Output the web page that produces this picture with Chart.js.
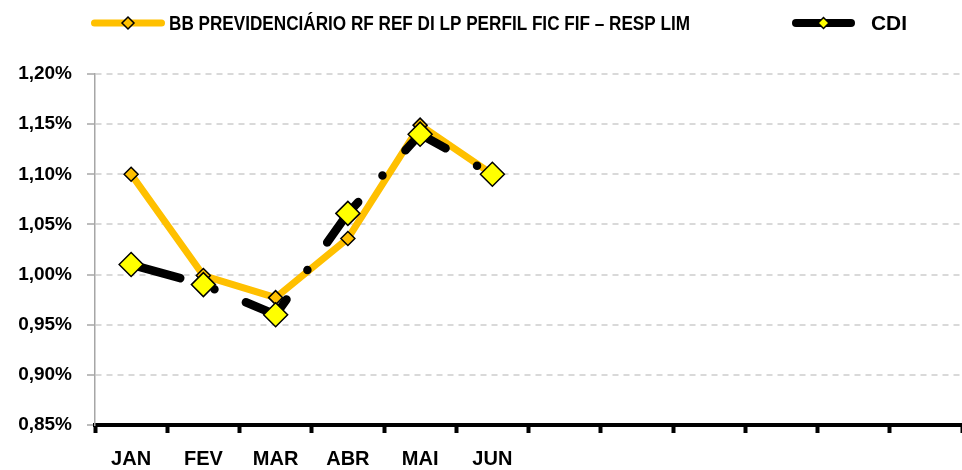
<!DOCTYPE html>
<html>
<head>
<meta charset="utf-8">
<script src="https://cdn.jsdelivr.net/npm/chart.js@4.4.1/dist/chart.umd.min.js"></script>
<style>
  html, body { margin: 0; padding: 0; background: #fff; }
  #wrap { width: 962px; height: 470px; position: relative; }
</style>
</head>
<body>
<div id="wrap"><canvas id="rentChart"></canvas></div>
<script>
// Dados
var months = ['JAN', 'FEV', 'MAR', 'ABR', 'MAI', 'JUN', '', '', '', '', '', ''];
var fundName = 'BB PREVIDENCIÁRIO RF REF DI LP PERFIL FIC FIF – RESP LIM';
var fundValues = [1.100, 0.999, 0.977, 1.036, 1.149, 1.100];
var cdiName = 'CDI';
var cdiValues = [1.010, 0.990, 0.960, 1.061, 1.140, 1.100];
var yTicks = [0.85, 0.90, 0.95, 1.00, 1.05, 1.10, 1.15, 1.20];

var FONT = '"Liberation Sans", Arial, sans-serif';

// Legend drawn on top (line + diamond, like Excel)
var legendItems = [
    { text: fundName, line: '#FFC000', fill: '#FFC000', lw: 7, len: 74, r: 6, x: 91, tx: 169, tw: 521 },
    { text: cdiName, line: '#000000', fill: '#FFFF00', lw: 8, len: 63, r: 5.5, x: 792, tx: 871, tw: 36 }
];

var topLegend = {
    id: 'topLegend',
    afterDraw: function(chart) {
        var ctx = chart.ctx;
        var y = 23;
        legendItems.forEach(function(it) {
            ctx.save();
            ctx.strokeStyle = it.line;
            ctx.lineWidth = it.lw;
            ctx.lineCap = 'round';
            ctx.beginPath();
            ctx.moveTo(it.x + it.lw / 2, y);
            ctx.lineTo(it.x + it.len - it.lw / 2, y);
            ctx.stroke();

            ctx.fillStyle = it.fill;
            ctx.strokeStyle = '#000';
            ctx.lineWidth = 1.5;
            Chart.helpers.drawPoint(ctx, { pointStyle: 'rectRot', radius: it.r, borderWidth: 1.5 }, it.x + it.len / 2, y);

            ctx.font = 'bold 20px ' + FONT;
            ctx.fillStyle = '#000';
            ctx.textBaseline = 'alphabetic';
            var w = ctx.measureText(it.text).width;
            ctx.translate(it.tx, 30);
            ctx.scale(it.tw / w, 1);
            ctx.fillText(it.text, 0, 0);
            ctx.restore();
        });
    }
};

var ctx = document.getElementById('rentChart').getContext('2d');
var rentChart = new Chart(ctx, {
    type: 'line',
    data: {
        labels: months,
        datasets: [{
            label: fundName,
            data: fundValues,
            borderColor: '#FFC000',
            borderWidth: 7,
            borderJoinStyle: 'round',
            pointStyle: 'rectRot',
            pointRadius: 7,
            pointBackgroundColor: '#FFC000',
            pointBorderColor: '#000',
            pointBorderWidth: 1.5,
            tension: 0,
            order: 2
        }, {
            label: cdiName,
            data: cdiValues,
            borderColor: '#000',
            borderWidth: 8.5,
            borderDash: [51, 36, 0, 34],
            borderCapStyle: 'round',
            pointStyle: 'rectRot',
            pointRadius: 12,
            pointBackgroundColor: '#FFFF00',
            pointBorderColor: '#000',
            pointBorderWidth: 1.5,
            tension: 0,
            order: 1
        }]
    },
    options: {
        responsive: true,
        maintainAspectRatio: false,
        animation: false,
        events: [],
        layout: { autoPadding: false, padding: { top: 74, left: 0, right: 0, bottom: 0 } },
        plugins: {
            legend: { display: false },
            tooltip: { enabled: false }
        },
        scales: {
            x: {
                offset: true,
                grid: {
                    offset: true,
                    drawOnChartArea: false,
                    tickLength: 8,
                    tickWidth: 4,
                    tickColor: '#000'
                },
                border: { display: true, color: '#000', width: 4 },
                ticks: {
                    color: '#000',
                    font: { family: FONT, size: 20, weight: 'bold' },
                    padding: 14,
                    maxRotation: 0,
                    autoSkip: false
                },
                afterFit: function(s) {
                    s.height = 45;
                    s.paddingLeft = 0;
                    s.paddingRight = 0;
                }
            },
            y: {
                min: 0.85,
                max: 1.20,
                afterBuildTicks: function(s) {
                    s.ticks = yTicks.map(function(v) { return { value: v }; });
                },
                grid: {
                    color: '#d9d9d9',
                    lineWidth: 2,
                    tickLength: 8,
                    tickColor: '#a6a6a6',
                    tickWidth: 1.5,
                    tickBorderDash: []
                },
                border: { display: true, color: '#a6a6a6', width: 1.5, dash: [6, 5] },
                ticks: {
                    color: '#000',
                    font: { family: FONT, size: 19, weight: 'bold' },
                    padding: 15,
                    callback: function(v) { return v.toFixed(2).replace('.', ',') + '%'; }
                },
                afterFit: function(s) {
                    s.width = 95;
                    s.paddingTop = 0;
                    s.paddingBottom = 0;
                }
            }
        }
    },
    plugins: [topLegend]
});
</script>
</body>
</html>
